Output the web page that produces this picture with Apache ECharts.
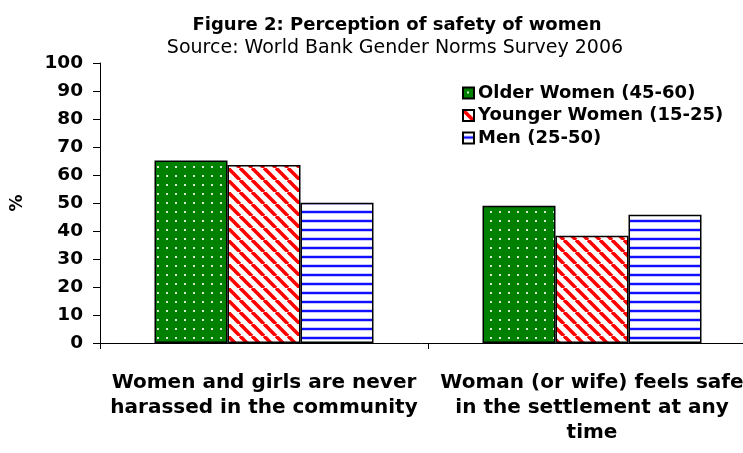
<!DOCTYPE html>
<html>
<head>
<meta charset="utf-8">
<script src="https://cdn.jsdelivr.net/npm/echarts@6/dist/echarts.min.js"></script>
<style>
  html, body { margin: 0; padding: 0; background: #fff; }
  #chart { width: 743px; height: 453px; }
</style>
</head>
<body>
<div id="chart"></div>
<script>
// data
const categories = [
  'Women and girls are never\nharassed in the community',
  'Woman (or wife) feels safe\nin the settlement at any\ntime'
];
const seriesNames = ['Older Women (45-60)', 'Younger Women (15-25)', 'Men (25-50)'];
const olderWomen = [65.2, 49.0];
const youngerWomen = [63.6, 38.3];
const men = [50.1, 45.8];

// small canvas tiles used as bar fills
function tile(w, h, draw) {
  const c = document.createElement('canvas');
  c.width = w;
  c.height = h;
  draw(c.getContext('2d'));
  return c;
}
const dots = tile(9, 9, ctx => {
  ctx.fillStyle = '#008000';
  ctx.fillRect(0, 0, 9, 9);
  ctx.fillStyle = '#d6ead6';
  ctx.fillRect(4, 4, 2, 2);
});
const stripes = tile(12, 12, ctx => {
  ctx.fillStyle = '#fff';
  ctx.fillRect(0, 0, 12, 12);
  ctx.strokeStyle = '#ff0000';
  ctx.lineWidth = 3.6;
  [-12, 0, 12].forEach(o => {
    ctx.beginPath();
    ctx.moveTo(o, 0);
    ctx.lineTo(o + 12, 12);
    ctx.stroke();
  });
});
const lines = tile(9, 9, ctx => {
  ctx.fillStyle = '#fff';
  ctx.fillRect(0, 0, 9, 9);
  ctx.fillStyle = '#c8c8ff';
  ctx.fillRect(0, 3, 9, 4);
  ctx.fillStyle = '#1010ff';
  ctx.fillRect(0, 4, 9, 2);
});

const fills = [dots, stripes, lines];
const values = [olderWomen, youngerWomen, men];

const chart = echarts.init(document.getElementById('chart'));
const FONT = '"DejaVu Sans", Arial, sans-serif';
const bold = { fontFamily: FONT, fontWeight: 'bold', color: '#000' };

chart.setOption({
  animation: false,
  title: [{
    text: 'Figure 2: Perception of safety of women',
    left: 392,
    textAlign: 'center',
    top: 11,
    textStyle: Object.assign({}, bold, { fontSize: 18 })
  }, {
    text: 'Source: World Bank Gender Norms Survey 2006',
    left: 390,
    textAlign: 'center',
    top: 34,
    textStyle: { fontFamily: FONT, fontWeight: 'normal', fontSize: 19, color: '#000' }
  }],
  legend: {
    orient: 'vertical',
    left: 457,
    top: 79,
    icon: 'rect',
    itemWidth: 11,
    itemHeight: 11,
    itemGap: 4.5,
    textStyle: Object.assign({}, bold, { fontSize: 18, padding: [0, 0, 0, -1] }),
    data: seriesNames
  },
  grid: { left: 100, top: 63, width: 656, height: 280, outerBoundsMode: 'none', containLabel: false },
  xAxis: {
    type: 'category',
    data: categories,
    axisLine: { lineStyle: { color: '#000', width: 1 } },
    axisTick: { show: true, alignWithLabel: false, length: 6, interval: 0, lineStyle: { color: '#000' } },
    axisLabel: Object.assign({}, bold, { fontSize: 20, margin: 27, lineHeight: 25, interval: 0 })
  },
  yAxis: {
    type: 'value',
    min: 0,
    max: 100,
    interval: 10,
    name: '%',
    nameLocation: 'middle',
    nameGap: 74,
    nameTextStyle: Object.assign({}, bold, { fontSize: 17 }),
    axisLine: { show: true, lineStyle: { color: '#000', width: 1 } },
    axisTick: { show: true, length: 7, lineStyle: { color: '#000' } },
    axisLabel: Object.assign({}, bold, { fontSize: 18.5, margin: 17 }),
    splitLine: { show: false }
  },
  series: seriesNames.map((name, i) => ({
    name: name,
    type: 'bar',
    data: values[i],
    barWidth: 73,
    barGap: '0%',
    itemStyle: {
      color: { image: fills[i], repeat: 'repeat' },
      borderColor: '#000',
      borderWidth: 1.5
    }
  }))
});
</script>
</body>
</html>
